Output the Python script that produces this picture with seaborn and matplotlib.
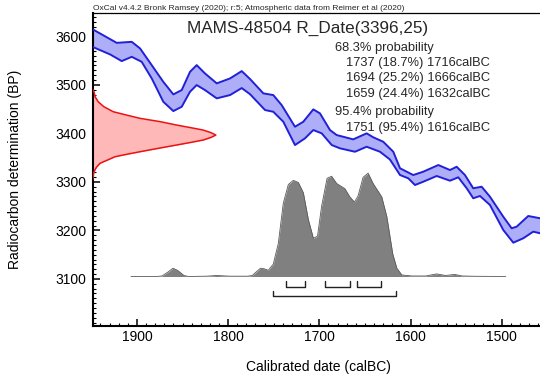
import numpy as np
import matplotlib
matplotlib.use('Agg')
import matplotlib.pyplot as plt
from matplotlib.ticker import MultipleLocator
import seaborn as sns

# calibration curve band (IntCal20), upper and lower edges, years calBC / BP
upper_year = [1951, 1922.2, 1905.7, 1896.6, 1883.8, 1871.1, 1860.1, 1850.9, 1841.8, 1834.5,
              1825.4, 1812.5, 1797.9, 1785.1, 1776, 1761.4, 1750.5, 1741.3, 1726.7, 1717.6,
              1706.6, 1699.3, 1688.3, 1681, 1662.8, 1648.1, 1640.8, 1629.9, 1618.9, 1611.5,
              1604.2, 1597, 1586, 1569.5, 1556.7, 1549.4, 1540.3, 1531.2, 1522, 1512.9,
              1498.3, 1489.1, 1483.6, 1470.9, 1458, 1450]
upper_bp = [3617, 3586.5, 3588.6, 3575, 3540.6, 3506.2, 3480.3, 3489.2, 3526.8, 3540.6,
            3523.5, 3503, 3513.2, 3528.3, 3512, 3482.4, 3478.9, 3458.3, 3413.6, 3423.9,
            3449.4, 3441.2, 3406.8, 3396.5, 3387.6, 3400, 3391.8, 3382.7, 3362.1, 3328,
            3321, 3314.1, 3321, 3334.7, 3324.4, 3331.2, 3314.1, 3286.8, 3290, 3269.5,
            3228.3, 3204.4, 3207.7, 3229.7, 3225, 3222]
lower_year = [1951, 1929.5, 1916.7, 1905.7, 1894.8, 1883.8, 1871.1, 1860.1, 1850.9, 1841.8,
              1834.5, 1825.4, 1812.5, 1797.9, 1785.1, 1776, 1759.5, 1750.5, 1739.5, 1726.7,
              1715.7, 1706.6, 1697.4, 1686.4, 1677.3, 1660.9, 1648.1, 1633.5, 1622.5, 1611.5,
              1602.4, 1595.1, 1586, 1571.3, 1556.7, 1547.6, 1538.4, 1531.2, 1523.8, 1512.9,
              1498.3, 1487.3, 1476.3, 1465.4, 1458, 1450]
lower_bp = [3580, 3562.7, 3548.9, 3557.7, 3547.4, 3513.2, 3465.1, 3445.9, 3454.8, 3485.7,
            3499.5, 3489.2, 3472.1, 3478.9, 3493.3, 3480.7, 3448, 3444.5, 3423.9, 3375.9,
            3389.7, 3406.8, 3400, 3375.9, 3369.1, 3362.1, 3372.4, 3362.1, 3346, 3314.1,
            3307.3, 3293.5, 3300.3, 3312.1, 3302.4, 3309.4, 3286.8, 3266.2, 3270.9, 3252.4,
            3200.9, 3174.7, 3183.8, 3197.4, 3194.1, 3192]

# measured date R_Date(3396,25): relative width of the red curve at each BP
rdate_bp = [3490, 3485.7, 3475, 3465, 3455, 3444.5, 3438, 3430.9, 3424, 3417.1, 3412,
            3406.8, 3401.5, 3396.5, 3391.5, 3386.2, 3381, 3375.9, 3369, 3362.1, 3357,
            3351.8, 3345, 3338.2, 3330, 3320.9, 3305]
rdate_w = [0.0, 0.01, 0.02, 0.045, 0.09, 0.167, 0.27, 0.384, 0.55, 0.681, 0.79,
           0.897, 0.96, 1.0, 0.96, 0.897, 0.79, 0.681, 0.53, 0.384, 0.28,
           0.181, 0.12, 0.059, 0.03, 0.01, 0.0]

# calibrated probability (relative to peak)
prob_year = [1906.5, 1878.5, 1872.5, 1866.5, 1860.5, 1855.5, 1848.5, 1843.5, 1823.5, 1812.5,
             1798.5, 1778.5, 1773.5, 1768.5, 1764.5, 1760.5, 1756, 1750.5, 1745, 1739.5,
             1734, 1728.5, 1723, 1717.5, 1712, 1706.5, 1702, 1697.5, 1691.5, 1686.5,
             1681, 1672, 1666.5, 1661.5, 1657.5, 1652, 1646.5, 1641, 1631.5, 1626,
             1619.5, 1615, 1609.5, 1598.5, 1583.5, 1571.5, 1561.5, 1551.5, 1543.5, 1528.5,
             1495.5]
prob_val = [0, 0, 0.005, 0.04, 0.08, 0.06, 0.01, 0, 0.003, 0.01,
            0.003, 0.003, 0.01, 0.05, 0.08, 0.075, 0.06, 0.12, 0.32, 0.71,
            0.89, 0.93, 0.91, 0.81, 0.55, 0.37, 0.39, 0.68, 0.95, 0.97,
            0.90, 0.85, 0.77, 0.72, 0.78, 0.96, 1.0, 0.9, 0.77, 0.58,
            0.22, 0.08, 0.015, 0.005, 0.005, 0.025, 0.01, 0.02, 0.005, 0.002,
            0]

ranges_68 = [(1737, 1716), (1694, 1666), (1659, 1632)]
ranges_95 = [(1751, 1616)]
range_pct_68 = [18.7, 25.2, 24.4]
range_pct_95 = [95.4]

x_left, x_right = 1948.5, 1458

sns.set_theme(style='ticks')
plt.rcParams['font.family'] = ['Liberation Sans', 'DejaVu Sans']

fig = plt.figure(figsize=(5.4, 3.77), dpi=100)
ax = fig.add_axes([0.1717, 0.1353, 0.8283, 0.8302])

# probability distribution
base, height = 3105, 213
prob_y = base + np.array(prob_val) * height
ax.fill_between(prob_year, base, prob_y, color='#808080', lw=0, zorder=2)
sns.lineplot(x=prob_year, y=prob_y, sort=False, estimator=None, color='#5a5a5a', lw=0.6, ax=ax, zorder=3)

# brackets for the ranges
def bracket(lo, hi, y0, y1):
    ax.plot([lo, lo, hi, hi], [y1, y0, y0, y1], color='#222222', lw=1.0, zorder=3)

for a, b in ranges_68:
    bracket(a, b, 3084, 3096)
for a, b in ranges_95:
    bracket(a, b, 3064, 3076)

# measured radiocarbon date on the y axis
rx = x_left - np.array(rdate_w) * 135
ax.fill_betweenx(rdate_bp, x_left, rx, color='#ffb8b8', lw=0, zorder=2)
sns.lineplot(x=rx, y=rdate_bp, sort=False, estimator=None, color='#ee1111', lw=1.1, ax=ax, zorder=3)

# calibration curve band
ax.fill(upper_year + lower_year[::-1], upper_bp + lower_bp[::-1], color='#adadf8', lw=0, zorder=2)
sns.lineplot(x=upper_year, y=upper_bp, sort=False, estimator=None, color='#2020d8', lw=1.4, ax=ax, zorder=3)
sns.lineplot(x=lower_year, y=lower_bp, sort=False, estimator=None, color='#2020d8', lw=1.4, ax=ax, zorder=3)

ax.set_xlim(x_left, x_right)
ax.set_ylim(3003, 3648)
ax.set_xticks([1900, 1800, 1700, 1600, 1500])
ax.set_yticks([3100, 3200, 3300, 3400, 3500, 3600])
ax.xaxis.set_minor_locator(MultipleLocator(10))
ax.yaxis.set_minor_locator(MultipleLocator(10))
ax.tick_params(which='major', direction='in', length=5, width=1.1, color='black',
               labelsize=10, labelcolor='black')
ax.tick_params(which='minor', direction='in', length=2.5, width=0.8, color='black')
ax.tick_params(axis='y', which='major', pad=4.8)
ax.tick_params(axis='x', which='major', pad=3)

for s in ['left', 'bottom']:
    ax.spines[s].set_color('black')
    ax.spines[s].set_linewidth(1.5)
ax.spines['top'].set_color('black')
ax.spines['top'].set_linewidth(0.9)
ax.spines['right'].set_visible(False)

ax.set_xlabel('Calibrated date (calBC)', fontsize=10, color='black')
ax.set_ylabel('Radiocarbon determination (BP)', fontsize=10, color='black')
ax.xaxis.set_label_coords(0.5037, -0.108)
ax.yaxis.set_label_coords(-0.158, 0.5016)

fig.text(93 / 540, 1 - 9.5 / 377,
         'OxCal v4.4.2 Bronk Ramsey (2020); r:5; Atmospheric data from Reimer et al (2020)',
         fontsize=6, ha='left', va='baseline')
fig.text(308 / 540, 1 - 33.3 / 377, 'MAMS-48504 R_Date(3396,25)', fontsize=12.3,
         ha='center', va='baseline')

lines = [('68.3% probability', 335)]
for (a, b), p in zip(ranges_68, range_pct_68):
    lines.append(('%d (%.1f%%) %dcalBC' % (a, p, b), 346))
lines.append(('95.4% probability', 335))
for (a, b), p in zip(ranges_95, range_pct_95):
    lines.append(('%d (%.1f%%) %dcalBC' % (a, p, b), 346))
baselines = [50.5, 66.2, 81.5, 97.2, 114.5, 130.5]
for (txt, xp), yb in zip(lines, baselines):
    fig.text(xp / 540, 1 - yb / 377, txt, fontsize=9.3, ha='left', va='baseline')

fig.savefig('out.png', dpi=100)
